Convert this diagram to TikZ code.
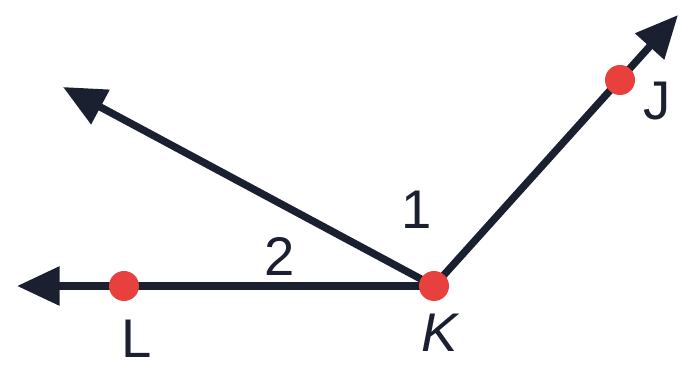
\documentclass[tikz,border=0pt]{standalone}
\usepackage{fontspec}
\setmainfont{Liberation Sans}
\usetikzlibrary{arrows.meta}
\definecolor{rayink}{HTML}{1B2030}
\definecolor{dotred}{HTML}{E8403C}
\tikzset{
  ray/.style={draw=rayink,line width=4.2pt,-{Triangle[length=0.85cm,width=0.75cm]}},
  pt/.style={circle,fill=dotred,inner sep=0pt,minimum size=0.6cm},
  lbl/.style={text=rayink,font=\fontsize{31}{37}\selectfont}
}
\begin{document}
\begin{tikzpicture}[baseline=(current bounding box.center),scale=1]
\useasboundingbox (0,0) rectangle (13.62,7.42);
\coordinate (K) at (8.68,1.70);
\coordinate (Lend) at (0.34,1.70);
\coordinate (Jend) at (13.56,7.12);
\coordinate (Mend) at (1.26,5.68);
\draw[ray] (K) -- (Lend);
\draw[ray] (K) -- (Jend);
\draw[ray] (K) -- (Mend);
\node[pt] (Kd) at (K) {};
\node[pt] (Ld) at (2.48,1.70) {};
\node[pt] (Jd) at (12.40,5.82) {};
\node[lbl] (Ll) at (2.74,0.64) {L};
\node[lbl] (Kl) at (8.80,0.76) {\itshape K};
\node[lbl] (Jl) at (13.14,5.40) {J};
\node[lbl] (one) at (8.34,3.22) {1};
\node[lbl] (two) at (5.60,2.30) {2};
\end{tikzpicture}
\end{document}
